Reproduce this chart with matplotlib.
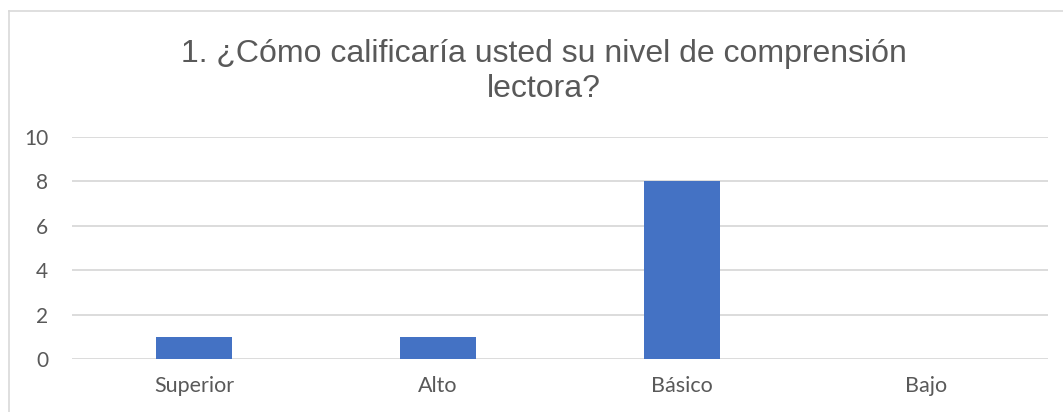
import matplotlib.pyplot as plt
from matplotlib.lines import Line2D

categories = ['Superior', 'Alto', 'Básico', 'Bajo']
values = [1, 1, 8, 0]
yticks = [0, 2, 4, 6, 8, 10]
title_lines = ['1. ¿Cómo calificaría usted su nivel de comprensión', 'lectora?']

W, H = 1063, 412
fig = plt.figure(figsize=(W / 100, H / 100), dpi=100)
# plot area in pixels: x 72..1048, y 137..359
ax = fig.add_axes([72 / W, 1 - 359 / H, 976 / W, 222 / H])

x = range(len(categories))
ax.bar(x, values, width=0.31, color='#4472C4', zorder=3)
ax.set_xlim(-0.5, len(categories) - 0.5)
ax.set_ylim(0, 10)
ax.set_yticks(yticks)
ax.set_xticks(list(x))
ax.set_xticklabels(categories, fontfamily='Lato', fontsize=15.5, color='#595959')
ax.set_yticklabels([str(t) for t in yticks], fontfamily='Lato', fontsize=15, color='#595959')
ax.tick_params(length=0)
ax.tick_params(axis='x', pad=12)
ax.tick_params(axis='y', pad=17)
ax.grid(axis='y', color='#D9D9D9', linewidth=1.3, zorder=0)
for s in ax.spines.values():
    s.set_visible(False)

# title, two centred lines
for txt, base in zip(title_lines, [62, 97]):
    fig.text(544 / W, 1 - base / H, txt, ha='center', va='baseline', fontsize=23,
             fontfamily='Liberation Sans', color='#595959')

# chart frame (only left and top edges visible)
fig.add_artist(Line2D([8.5 / W, 8.5 / W], [0, 1 - 11 / H], transform=fig.transFigure,
                      color='#D9D9D9', linewidth=1.2))
fig.add_artist(Line2D([8.5 / W, 1], [1 - 11 / H, 1 - 11 / H], transform=fig.transFigure,
                      color='#D9D9D9', linewidth=1.2))

fig.savefig('out.png', dpi=100)
